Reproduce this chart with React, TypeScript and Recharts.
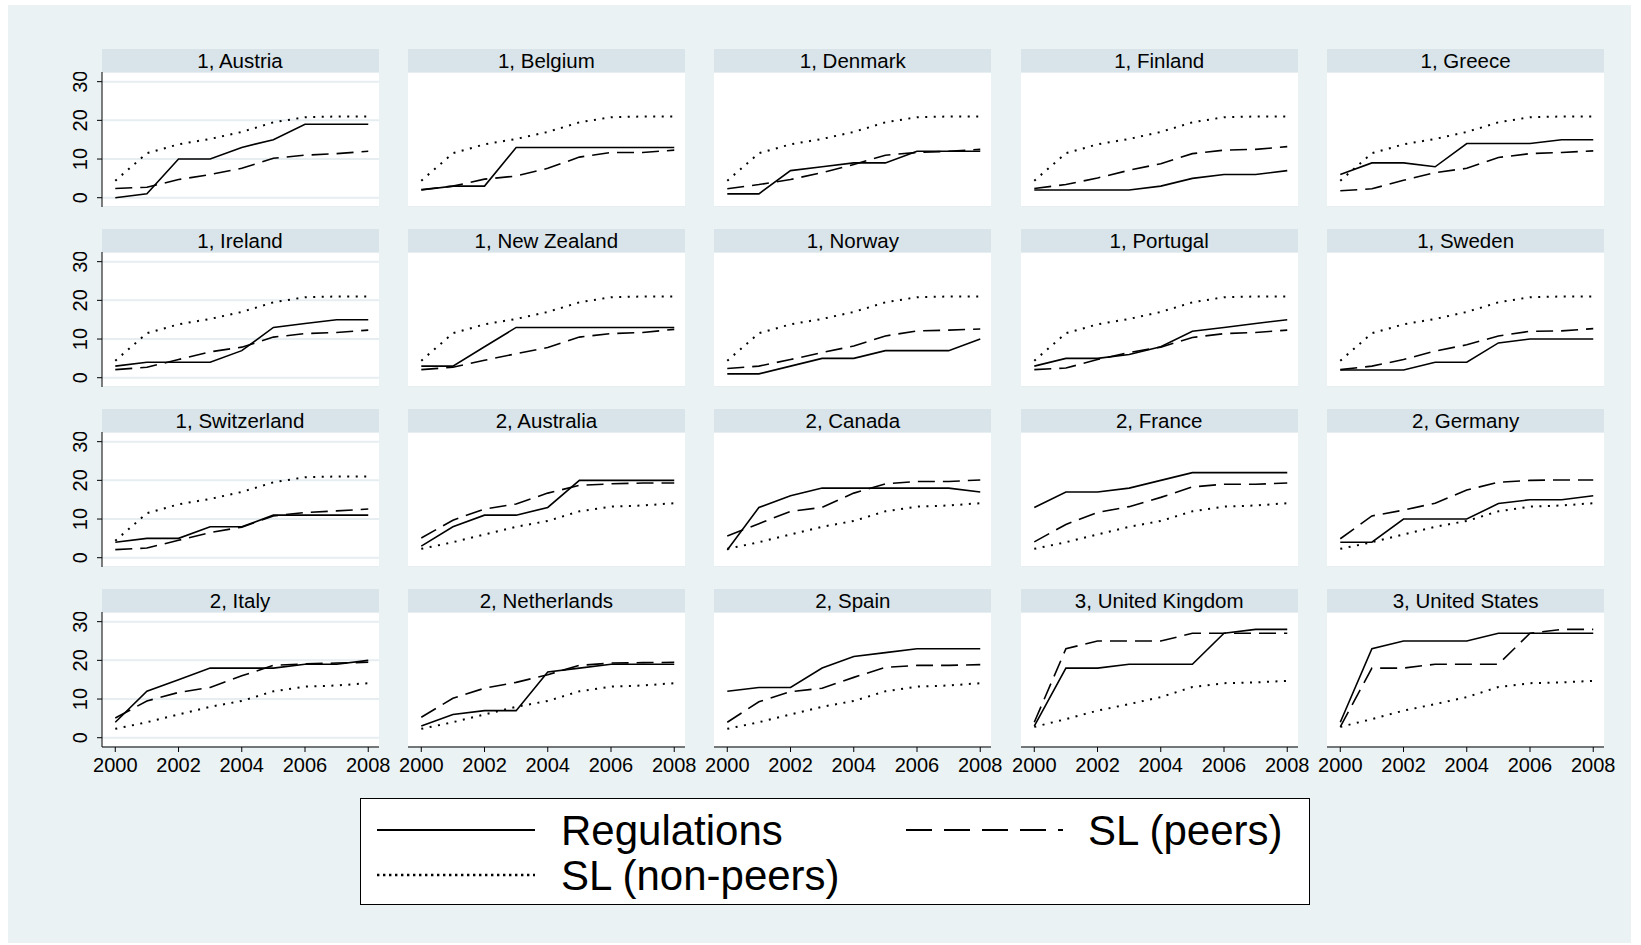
import { CartesianGrid, Line, LineChart, XAxis, YAxis } from 'recharts';

const years = [2000, 2001, 2002, 2003, 2004, 2005, 2006, 2007, 2008];
const xTicks = [2000, 2002, 2004, 2006, 2008];
const yTicks = [0, 10, 20, 30];

const panelTitles = [
  '1, Austria', '1, Belgium', '1, Denmark', '1, Finland', '1, Greece',
  '1, Ireland', '1, New Zealand', '1, Norway', '1, Portugal', '1, Sweden',
  '1, Switzerland', '2, Australia', '2, Canada', '2, France', '2, Germany',
  '2, Italy', '2, Netherlands', '2, Spain', '3, United Kingdom', '3, United States',
];

const panelGroups = [1, 1, 1, 1, 1, 1, 1, 1, 1, 1, 1, 2, 2, 2, 2, 2, 2, 2, 3, 3];

const regulations = [
  [0, 1, 10, 10, 13, 15, 19, 19, 19],
  [2, 3, 3, 13, 13, 13, 13, 13, 13],
  [1, 1, 7, 8, 9, 9, 12, 12, 12],
  [2, 2, 2, 2, 3, 5, 6, 6, 7],
  [6, 9, 9, 8, 14, 14, 14, 15, 15],
  [3, 4, 4, 4, 7, 13, 14, 15, 15],
  [3, 3, 8, 13, 13, 13, 13, 13, 13],
  [1, 1, 3, 5, 5, 7, 7, 7, 10],
  [3, 5, 5, 6, 8, 12, 13, 14, 15],
  [2, 2, 2, 4, 4, 9, 10, 10, 10],
  [4, 5, 5, 8, 8, 11, 11, 11, 11],
  [3, 8, 11, 11, 13, 20, 20, 20, 20],
  [2, 13, 16, 18, 18, 18, 18, 18, 17],
  [13, 17, 17, 18, 20, 22, 22, 22, 22],
  [4, 4, 10, 10, 10, 14, 15, 15, 16],
  [4, 12, 15, 18, 18, 18, 19, 19, 20],
  [3, 6, 7, 7, 17, 18, 19, 19, 19],
  [12, 13, 13, 18, 21, 22, 23, 23, 23],
  [3, 18, 18, 19, 19, 19, 27, 28, 28],
  [4, 23, 25, 25, 25, 27, 27, 27, 27],
];

const slPeers = [
  [2.4, 2.7, 4.7, 6, 7.6, 10.2, 11, 11.4, 12],
  [2.1, 3, 4.8, 5.6, 7.6, 10.5, 11.7, 11.7, 12.3],
  [2.3, 3.4, 4.7, 6.5, 8.6, 11, 11.7, 12, 12.5],
  [2.4, 3.4, 5.1, 7.1, 8.8, 11.4, 12.3, 12.5, 13.2],
  [1.8, 2.3, 4.5, 6.5, 7.6, 10.4, 11.4, 11.7, 12.1],
  [2.1, 2.7, 4.7, 6.7, 7.9, 10.5, 11.4, 11.7, 12.3],
  [2.1, 2.7, 4.5, 6.2, 7.8, 10.5, 11.4, 11.7, 12.5],
  [2.4, 3, 4.7, 6.5, 8.2, 10.8, 12.1, 12.3, 12.6],
  [2.1, 2.5, 4.7, 6.5, 7.9, 10.4, 11.4, 11.7, 12.3],
  [2.1, 3, 4.7, 6.9, 8.5, 10.8, 12, 12.1, 12.7],
  [2.1, 2.5, 4.5, 6.5, 7.9, 10.8, 11.7, 12.1, 12.6],
  [5.1, 9.7, 12.6, 13.9, 16.7, 18.7, 19.1, 19.3, 19.3],
  [5.6, 8.8, 12, 13, 16.7, 19.1, 19.7, 19.7, 20.1],
  [4.1, 8.6, 11.7, 13.2, 15.6, 18.3, 19, 19, 19.3],
  [4.9, 10.8, 12.3, 14.1, 17.5, 19.5, 20, 20.1, 20.1],
  [5.1, 9.5, 11.7, 13, 16, 18.7, 19.1, 19.3, 19.5],
  [5.3, 10.2, 12.8, 14.3, 16.3, 18.7, 19.3, 19.4, 19.5],
  [4, 9.3, 11.9, 12.8, 15.6, 18.2, 18.7, 18.7, 18.9],
  [4, 23, 25, 25, 25, 27, 27, 27, 27],
  [2.8, 18, 18, 19, 19, 19, 27, 28, 28],
];

const nonPeersG1 = [4.4, 11.5, 13.8, 15.2, 17, 19.5, 20.8, 21, 21];
const nonPeersG2 = [2.3, 4, 6, 8, 9.5, 12, 13.2, 13.5, 14.1];
const nonPeersG3 = [2.8, 4.8, 7, 8.7, 10.5, 13.1, 14.1, 14.3, 14.7];

// layout (px)
const COL_LEFT = 101.5;
const COL_STEP = 306.4;
const PANEL_W = 277;
const ROW_TOP = 49;
const ROW_STEP = 180;
const HEADER_H = 23;
const PLOT_H = 135;

const FONT = '"Liberation Sans", Arial, Helvetica, sans-serif';
const BG = '#eaf2f3';
const HEADER_BG = '#d8e4ea';
const GRID = '#e6eef1';

function YTick(props: any) {
  const { x, y, payload } = props;
  return (
    <g transform={`translate(${x - 14},${y})`}>
      <text transform="rotate(-90)" textAnchor="middle" dy="0.36em" fontSize={20} fill="#000">
        {payload.value}
      </text>
    </g>
  );
}

function Panel({ index }: { index: number }) {
  const col = index % 5;
  const row = Math.floor(index / 5);
  const left = COL_LEFT + col * COL_STEP;
  const top = ROW_TOP + row * ROW_STEP;
  const showY = col === 0;
  const showX = row === 3;
  const yW = showY ? 46 : 0;
  const xH = showX ? 36 : 0;
  const padX = showX ? 26 : 0;
  const group = panelGroups[index];
  const nonPeers = group === 1 ? nonPeersG1 : group === 2 ? nonPeersG2 : nonPeersG3;
  const data = years.map((year, i) => ({
    year,
    reg: regulations[index][i],
    peers: slPeers[index][i],
    nonPeers: nonPeers[i],
  }));

  return (
    <>
      <div
        style={{
          position: 'absolute',
          left,
          top,
          width: PANEL_W,
          height: HEADER_H,
          background: HEADER_BG,
          textAlign: 'center',
          fontSize: 20.5,
          lineHeight: `${HEADER_H + 1}px`,
          color: '#000',
          whiteSpace: 'nowrap',
        }}
      >
        {panelTitles[index]}
      </div>
      <div style={{ position: 'absolute', left: left - yW - padX, top: top + HEADER_H }}>
        <LineChart
          width={PANEL_W + yW + 2 * padX}
          height={PLOT_H + xH}
          data={data}
          margin={{ top: 0, right: padX, bottom: 0, left: padX }}
        >
          <CartesianGrid vertical={false} stroke={GRID} strokeWidth={2} fill="#ffffff" fillOpacity={1} />
          <XAxis
            dataKey="year"
            type="number"
            domain={[1999.58, 2008.34]}
            ticks={xTicks}
            interval={0}
            hide={!showX}
            height={xH}
            tickSize={5}
            tickMargin={6}
            stroke="#000"
            tick={{ fill: '#000', fontSize: 20 }}
          />
          {showY ? (
            <YAxis
              type="number"
              domain={[-2.4, 32.5]}
              ticks={yTicks}
              width={yW}
              tickSize={5}
              tickMargin={3}
              stroke="#000"
              tick={<YTick />}
            />
          ) : (
            <YAxis
              type="number"
              domain={[-2.4, 32.5]}
              ticks={yTicks}
              width={0}
              tick={false}
              axisLine={false}
              tickLine={false}
            />
          )}
          <Line type="linear" dataKey="reg" stroke="#000" strokeWidth={1.6} dot={false} isAnimationActive={false} />
          <Line
            type="linear"
            dataKey="peers"
            stroke="#000"
            strokeWidth={1.6}
            strokeDasharray="17 8"
            dot={false}
            isAnimationActive={false}
          />
          <Line
            type="linear"
            dataKey="nonPeers"
            stroke="#000"
            strokeWidth={2}
            strokeDasharray="2 6.5"
            dot={false}
            isAnimationActive={false}
          />
        </LineChart>
      </div>
    </>
  );
}

function LegendBox() {
  return (
    <div
      style={{
        position: 'absolute',
        left: 360,
        top: 798,
        width: 950,
        height: 107,
        background: '#fff',
        border: '1.5px solid #000',
        boxSizing: 'border-box',
      }}
    >
      <svg width={947} height={104} style={{ fontFamily: FONT }}>
        <line x1={16} x2={174} y1={31} y2={31} stroke="#000" strokeWidth={2.2} />
        <text x={200} y={31} dy="0.36em" fontSize={42}>Regulations</text>
        <line x1={545} x2={702} y1={31} y2={31} stroke="#000" strokeWidth={2.2} strokeDasharray="26 12" />
        <text x={727} y={31} dy="0.36em" fontSize={42}>SL (peers)</text>
        <line x1={16} x2={174} y1={76} y2={76} stroke="#000" strokeWidth={2.4} strokeDasharray="2.4 3.6" />
        <text x={200} y={76} dy="0.36em" fontSize={42}>SL (non-peers)</text>
      </svg>
    </div>
  );
}

export default function App() {
  return (
    <div
      style={{
        position: 'absolute',
        left: 0,
        top: 0,
        width: 1641,
        height: 945,
        background: '#fff',
        fontFamily: FONT,
        overflow: 'hidden',
      }}
    >
      <div style={{ position: 'absolute', left: 8, top: 5, width: 1623, height: 938, background: BG }} />
      {panelTitles.map((_, i) => (
        <Panel key={i} index={i} />
      ))}
      <LegendBox />
    </div>
  );
}
